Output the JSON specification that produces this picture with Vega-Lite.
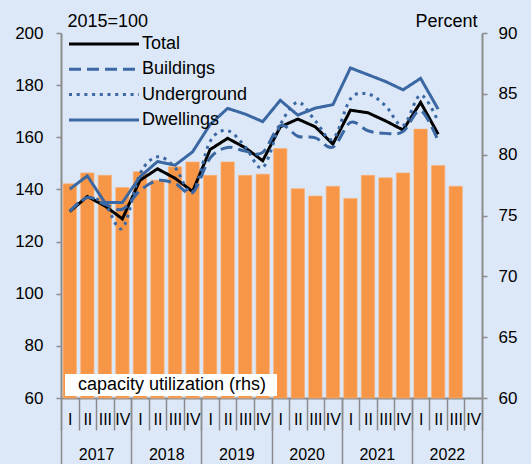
{
  "$schema": "https://vega.github.io/schema/vega-lite/v6.json",
  "width": 421,
  "height": 365,
  "autosize": {"type": "none"},
  "padding": {"left": 61, "top": 33, "right": 49, "bottom": 66},
  "background": "#DCE8F7",
  "config": {
    "view": {"stroke": null},
    "font": "Liberation Sans",
    "axis": {
      "domainColor": "#8C8C8C",
      "tickColor": "#8C8C8C",
      "domainWidth": 2,
      "tickWidth": 1.5,
      "labelColor": "#000000",
      "titleColor": "#000000",
      "grid": false
    }
  },
  "datasets": {
    "bars": [
      {"q": "2017-I", "cu": 77.6, "k": "capacity utilization (rhs)"},
      {"q": "2017-II", "cu": 78.5, "k": "capacity utilization (rhs)"},
      {"q": "2017-III", "cu": 78.3, "k": "capacity utilization (rhs)"},
      {"q": "2017-IV", "cu": 77.3, "k": "capacity utilization (rhs)"},
      {"q": "2018-I", "cu": 78.6, "k": "capacity utilization (rhs)"},
      {"q": "2018-II", "cu": 77.9, "k": "capacity utilization (rhs)"},
      {"q": "2018-III", "cu": 79.0, "k": "capacity utilization (rhs)"},
      {"q": "2018-IV", "cu": 79.4, "k": "capacity utilization (rhs)"},
      {"q": "2019-I", "cu": 78.3, "k": "capacity utilization (rhs)"},
      {"q": "2019-II", "cu": 79.4, "k": "capacity utilization (rhs)"},
      {"q": "2019-III", "cu": 78.3, "k": "capacity utilization (rhs)"},
      {"q": "2019-IV", "cu": 78.4, "k": "capacity utilization (rhs)"},
      {"q": "2020-I", "cu": 80.5, "k": "capacity utilization (rhs)"},
      {"q": "2020-II", "cu": 77.2, "k": "capacity utilization (rhs)"},
      {"q": "2020-III", "cu": 76.6, "k": "capacity utilization (rhs)"},
      {"q": "2020-IV", "cu": 77.4, "k": "capacity utilization (rhs)"},
      {"q": "2021-I", "cu": 76.4, "k": "capacity utilization (rhs)"},
      {"q": "2021-II", "cu": 78.3, "k": "capacity utilization (rhs)"},
      {"q": "2021-III", "cu": 78.1, "k": "capacity utilization (rhs)"},
      {"q": "2021-IV", "cu": 78.5, "k": "capacity utilization (rhs)"},
      {"q": "2022-I", "cu": 82.1, "k": "capacity utilization (rhs)"},
      {"q": "2022-II", "cu": 79.1, "k": "capacity utilization (rhs)"},
      {"q": "2022-III", "cu": 77.4, "k": "capacity utilization (rhs)"}
    ],
    "years": [
      {"year": "2017"}, {"year": "2018"}, {"year": "2019"},
      {"year": "2020"}, {"year": "2021"}, {"year": "2022"}
    ],
    "lines": [
      {"q": "2017-I", "series": "Total", "v": 131.5},
      {"q": "2017-II", "series": "Total", "v": 137.3},
      {"q": "2017-III", "series": "Total", "v": 133.7},
      {"q": "2017-IV", "series": "Total", "v": 128.7},
      {"q": "2018-I", "series": "Total", "v": 143.5},
      {"q": "2018-II", "series": "Total", "v": 147.9},
      {"q": "2018-III", "series": "Total", "v": 144.3},
      {"q": "2018-IV", "series": "Total", "v": 139.2},
      {"q": "2019-I", "series": "Total", "v": 155.3},
      {"q": "2019-II", "series": "Total", "v": 159.6},
      {"q": "2019-III", "series": "Total", "v": 156.0},
      {"q": "2019-IV", "series": "Total", "v": 151.0},
      {"q": "2020-I", "series": "Total", "v": 164.0},
      {"q": "2020-II", "series": "Total", "v": 167.0},
      {"q": "2020-III", "series": "Total", "v": 164.0},
      {"q": "2020-IV", "series": "Total", "v": 157.4},
      {"q": "2021-I", "series": "Total", "v": 170.4},
      {"q": "2021-II", "series": "Total", "v": 169.4},
      {"q": "2021-III", "series": "Total", "v": 166.3},
      {"q": "2021-IV", "series": "Total", "v": 162.8},
      {"q": "2022-I", "series": "Total", "v": 173.4},
      {"q": "2022-II", "series": "Total", "v": 161.2},
      {"q": "2017-I", "series": "Dwellings", "v": 140.1},
      {"q": "2017-II", "series": "Dwellings", "v": 145.2},
      {"q": "2017-III", "series": "Dwellings", "v": 135.0},
      {"q": "2017-IV", "series": "Dwellings", "v": 135.0},
      {"q": "2018-I", "series": "Dwellings", "v": 144.8},
      {"q": "2018-II", "series": "Dwellings", "v": 150.7},
      {"q": "2018-III", "series": "Dwellings", "v": 149.3},
      {"q": "2018-IV", "series": "Dwellings", "v": 154.4},
      {"q": "2019-I", "series": "Dwellings", "v": 164.9},
      {"q": "2019-II", "series": "Dwellings", "v": 171.1},
      {"q": "2019-III", "series": "Dwellings", "v": 168.9},
      {"q": "2019-IV", "series": "Dwellings", "v": 166.0},
      {"q": "2020-I", "series": "Dwellings", "v": 174.2},
      {"q": "2020-II", "series": "Dwellings", "v": 168.5},
      {"q": "2020-III", "series": "Dwellings", "v": 171.2},
      {"q": "2020-IV", "series": "Dwellings", "v": 172.5},
      {"q": "2021-I", "series": "Dwellings", "v": 186.6},
      {"q": "2021-II", "series": "Dwellings", "v": 184.0},
      {"q": "2021-III", "series": "Dwellings", "v": 181.4},
      {"q": "2021-IV", "series": "Dwellings", "v": 178.2},
      {"q": "2022-I", "series": "Dwellings", "v": 182.6},
      {"q": "2022-II", "series": "Dwellings", "v": 170.8},
      {"q": "2017-I", "series": "Buildings", "v": 131.6},
      {"q": "2017-II", "series": "Buildings", "v": 136.9},
      {"q": "2017-III", "series": "Buildings", "v": 134.3},
      {"q": "2017-IV", "series": "Buildings", "v": 132.4},
      {"q": "2018-I", "series": "Buildings", "v": 139.5},
      {"q": "2018-II", "series": "Buildings", "v": 143.4},
      {"q": "2018-III", "series": "Buildings", "v": 142.3},
      {"q": "2018-IV", "series": "Buildings", "v": 138.8},
      {"q": "2019-I", "series": "Buildings", "v": 152.0},
      {"q": "2019-II", "series": "Buildings", "v": 156.1},
      {"q": "2019-III", "series": "Buildings", "v": 154.7},
      {"q": "2019-IV", "series": "Buildings", "v": 154.2},
      {"q": "2020-I", "series": "Buildings", "v": 164.5},
      {"q": "2020-II", "series": "Buildings", "v": 160.4},
      {"q": "2020-III", "series": "Buildings", "v": 159.8},
      {"q": "2020-IV", "series": "Buildings", "v": 156.2},
      {"q": "2021-I", "series": "Buildings", "v": 165.7},
      {"q": "2021-II", "series": "Buildings", "v": 162.5},
      {"q": "2021-III", "series": "Buildings", "v": 161.5},
      {"q": "2021-IV", "series": "Buildings", "v": 162.2},
      {"q": "2022-I", "series": "Buildings", "v": 170.2},
      {"q": "2022-II", "series": "Buildings", "v": 158.6},
      {"q": "2017-I", "series": "Underground", "v": 131.8},
      {"q": "2017-II", "series": "Underground", "v": 136.7},
      {"q": "2017-III", "series": "Underground", "v": 134.3},
      {"q": "2017-IV", "series": "Underground", "v": 125.1},
      {"q": "2018-I", "series": "Underground", "v": 145.9},
      {"q": "2018-II", "series": "Underground", "v": 152.5},
      {"q": "2018-III", "series": "Underground", "v": 148.4},
      {"q": "2018-IV", "series": "Underground", "v": 139.0},
      {"q": "2019-I", "series": "Underground", "v": 158.4},
      {"q": "2019-II", "series": "Underground", "v": 162.5},
      {"q": "2019-III", "series": "Underground", "v": 156.4},
      {"q": "2019-IV", "series": "Underground", "v": 148.4},
      {"q": "2020-I", "series": "Underground", "v": 164.8},
      {"q": "2020-II", "series": "Underground", "v": 173.4},
      {"q": "2020-III", "series": "Underground", "v": 166.3},
      {"q": "2020-IV", "series": "Underground", "v": 159.3},
      {"q": "2021-I", "series": "Underground", "v": 174.7},
      {"q": "2021-II", "series": "Underground", "v": 176.6},
      {"q": "2021-III", "series": "Underground", "v": 172.1},
      {"q": "2021-IV", "series": "Underground", "v": 164.5},
      {"q": "2022-I", "series": "Underground", "v": 176.2},
      {"q": "2022-II", "series": "Underground", "v": 166.0}
    ]
  },
  "layer": [
    {
      "encoding": {
        "x": {
          "field": "q",
          "type": "ordinal",
          "scale": {
            "domain": ["2017-I","2017-II","2017-III","2017-IV","2018-I","2018-II","2018-III","2018-IV","2019-I","2019-II","2019-III","2019-IV","2020-I","2020-II","2020-III","2020-IV","2021-I","2021-II","2021-III","2021-IV","2022-I","2022-II","2022-III","2022-IV"],
            "paddingInner": 0,
            "paddingOuter": 0
          },
          "axis": {
            "orient": "bottom",
            "title": null,
            "labelExpr": "split(datum.value, '-')[1]",
            "labelAngle": 0,
            "labelAlign": "center",
            "labelBaseline": "top",
            "labelFontSize": 16,
            "tickBand": "extent",
            "tickSize": 32,
            "labelPadding": -19
          }
        }
      },
      "layer": [
        {
          "data": {"name": "bars"},
          "mark": {"type": "bar", "width": {"band": 0.76}, "color": "#F79646", "stroke": "#F9B07A", "strokeWidth": 0.7},
          "encoding": {
            "y": {
              "field": "cu",
              "type": "quantitative",
              "scale": {"domain": [60, 90], "nice": false, "zero": false},
              "axis": {
                "orient": "right",
                "values": [60, 65, 70, 75, 80, 85, 90],
                "title": "Percent",
                "titleAngle": 0,
                "titleX": -5,
                "titleY": -12,
                "titleAlign": "right",
                "titleBaseline": "middle",
                "titleFontSize": 18,
                "titleFontWeight": "normal",
                "labelFontSize": 17,
                "tickSize": 5,
                "labelPadding": 11
              }
            },
            "y2": {"datum": 60},
            "fill": {
              "field": "k",
              "type": "nominal",
              "scale": {"range": ["#F79646"]},
              "legend": {
                "title": "\u00a0",
                "titleOrient": "right",
                "titlePadding": 9,
                "titleFontSize": 10,
                "orient": "none",
                "legendX": 4,
                "legendY": 341,
                "fillColor": "#FFFFFF",
                "padding": 2,
                "symbolOpacity": 0,
                "symbolStrokeWidth": 0,
                "symbolSize": 16,
                "symbolOffset": 0,
                "labelOffset": -7,
                "labelLimit": 400,
                "labelFontSize": 18,
                "labelColor": "#000000"
              }
            }
          }
        },
        {
          "data": {"name": "lines"},
          "encoding": {
            "y": {
              "field": "v",
              "type": "quantitative",
              "scale": {"domain": [60, 200], "nice": false, "zero": false},
              "axis": {
                "orient": "left",
                "values": [60, 80, 100, 120, 140, 160, 180, 200],
                "title": "2015=100",
                "titleAngle": 0,
                "titleX": 6,
                "titleY": -12,
                "titleAlign": "left",
                "titleBaseline": "middle",
                "titleFontSize": 18,
                "titleFontWeight": "normal",
                "labelFontSize": 17,
                "tickSize": 5,
                "labelPadding": 13
              }
            },
            "stroke": {
              "field": "series",
              "type": "nominal",
              "scale": {
                "domain": ["Total", "Buildings", "Underground", "Dwellings"],
                "range": ["#000000", "#3B68A3", "#3B68A3", "#3B68A3"]
              },
              "legend": {
                "title": null,
                "orient": "none",
                "legendX": 6,
                "legendY": 2,
                "padding": 0,
                "symbolType": "M-7,0H7",
                "symbolSize": 100,
                "symbolOffset": 28,
                "symbolStrokeWidth": 3,
                "labelOffset": 29,
                "labelFontSize": 18,
                "labelColor": "#000000",
                "rowPadding": 7.3
              }
            },
            "strokeDash": {
              "field": "series",
              "type": "nominal",
              "scale": {
                "domain": ["Total", "Buildings", "Underground", "Dwellings"],
                "range": [[1, 0], [12, 6], [3, 4.7], [1, 0]]
              }
            }
          },
          "layer": [
            {
              "transform": [{"filter": "datum.series == 'Total' || datum.series == 'Dwellings'"}],
              "mark": {"type": "line", "strokeWidth": 3}
            },
            {
              "transform": [{"filter": "datum.series == 'Buildings' || datum.series == 'Underground'"}],
              "mark": {"type": "line", "strokeWidth": 3, "interpolate": "cardinal"}
            }
          ]
        }
      ],
      "resolve": {"scale": {"y": "independent"}}
    },
    {
      "data": {"name": "years"},
      "mark": {"type": "rect", "opacity": 0},
      "encoding": {
        "x": {
          "field": "year",
          "type": "ordinal",
          "scale": {"paddingInner": 0, "paddingOuter": 0},
          "axis": {
            "orient": "bottom",
            "title": null,
            "domain": false,
            "labelAngle": 0,
            "labelBaseline": "top",
            "labelFontSize": 16,
            "tickBand": "extent",
            "tickSize": 66,
            "labelPadding": -18
          }
        }
      }
    }
  ],
  "resolve": {"scale": {"x": "independent", "y": "independent"}}
}
